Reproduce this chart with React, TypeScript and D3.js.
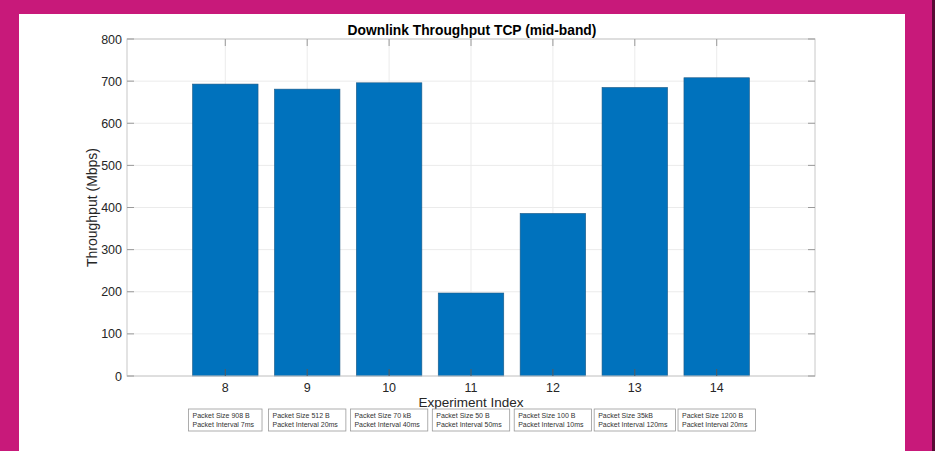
import React, { useRef, useEffect } from 'react';
import * as d3 from 'd3';

// experiment indices and measured throughput
const experiments = [8, 9, 10, 11, 12, 13, 14];
const throughput = [693, 681, 696, 197, 386, 685, 708];
const packetSizes = ['908 B', '512 B', '70 kB', '50 B', '100 B', '35kB', '1200 B'];
const packetIntervals = ['7ms', '20ms', '40ms', '50ms', '10ms', '120ms', '20ms'];
const yTicks = [0, 100, 200, 300, 400, 500, 600, 700, 800];

const W = 935;
const H = 451;
const margin = { left: 127, right: 815, top: 39, bottom: 376 };
const FONT = 'Liberation Sans, Arial, sans-serif';

const Chart = () => {
    const ref = useRef<SVGSVGElement>(null);

    useEffect(() => {
        const svg = d3.select(ref.current);
        svg.selectAll('*').remove();

        // frame
        svg.append('rect').attr('x', 0).attr('y', 0).attr('width', W).attr('height', H).attr('fill', '#C8197A');
        svg.append('rect').attr('x', 932).attr('y', 0).attr('width', 3).attr('height', H).attr('fill', '#5a0a35');
        svg.append('rect').attr('x', 19).attr('y', 14).attr('width', 886).attr('height', H - 14).attr('fill', '#ffffff');

        const x = d3.scaleLinear().domain([6.8, 15.2]).range([margin.left, margin.right]);
        const y = d3.scaleLinear().domain([0, 800]).range([margin.bottom, margin.top]);

        const g = svg.append('g');

        // grid
        g.selectAll('line.gy').data(yTicks).enter().append('line')
            .attr('x1', margin.left).attr('x2', margin.right)
            .attr('y1', d => y(d)).attr('y2', d => y(d))
            .attr('stroke', '#ebebeb').attr('stroke-width', 1);
        g.selectAll('line.gx').data(experiments).enter().append('line')
            .attr('x1', d => x(d)).attr('x2', d => x(d))
            .attr('y1', margin.top).attr('y2', margin.bottom)
            .attr('stroke', '#ebebeb').attr('stroke-width', 1);

        // bars
        const bw = x(0.8) - x(0);
        g.selectAll('rect.bar').data(experiments).enter().append('rect')
            .attr('x', d => x(d) - bw / 2)
            .attr('width', bw)
            .attr('y', (d, i) => y(throughput[i]))
            .attr('height', (d, i) => y(0) - y(throughput[i]))
            .attr('fill', '#0072BD')
            .attr('stroke', '#1f5a85')
            .attr('stroke-width', 0.6);

        // box
        g.append('rect')
            .attr('x', margin.left).attr('y', margin.top)
            .attr('width', margin.right - margin.left).attr('height', margin.bottom - margin.top)
            .attr('fill', 'none').attr('stroke', '#c8c8c8').attr('stroke-width', 1);

        // ticks (inside)
        g.selectAll('line.ty').data(yTicks).enter().append('line')
            .attr('x1', margin.left).attr('x2', margin.left + 7)
            .attr('y1', d => y(d)).attr('y2', d => y(d))
            .attr('stroke', '#9a9a9a');
        g.selectAll('line.ty2').data(yTicks).enter().append('line')
            .attr('x1', margin.right).attr('x2', margin.right - 7)
            .attr('y1', d => y(d)).attr('y2', d => y(d))
            .attr('stroke', '#9a9a9a');
        g.selectAll('line.tx').data(experiments).enter().append('line')
            .attr('x1', d => x(d)).attr('x2', d => x(d))
            .attr('y1', margin.bottom).attr('y2', margin.bottom - 7)
            .attr('stroke', '#5a5a5a');
        g.selectAll('line.tx2').data(experiments).enter().append('line')
            .attr('x1', d => x(d)).attr('x2', d => x(d))
            .attr('y1', margin.top).attr('y2', margin.top + 7)
            .attr('stroke', '#9a9a9a');

        // tick labels
        g.selectAll('text.yl').data(yTicks).enter().append('text')
            .attr('x', margin.left - 5).attr('y', d => y(d) + 4.5)
            .attr('text-anchor', 'end')
            .attr('font-family', FONT)
            .attr('font-size', 12.5).attr('fill', '#262626')
            .text(d => d);
        g.selectAll('text.xl').data(experiments).enter().append('text')
            .attr('x', d => x(d)).attr('y', margin.bottom + 15.5)
            .attr('text-anchor', 'middle')
            .attr('font-family', FONT)
            .attr('font-size', 12.5).attr('fill', '#262626')
            .text(d => d);

        // axis labels and title
        svg.append('text')
            .attr('x', 471).attr('y', 407)
            .attr('text-anchor', 'middle')
            .attr('font-family', FONT)
            .attr('font-size', 13.5).attr('fill', '#262626')
            .text('Experiment Index');
        svg.append('text')
            .attr('transform', `translate(97, ${(margin.top + margin.bottom) / 2}) rotate(-90)`)
            .attr('text-anchor', 'middle')
            .attr('font-family', FONT)
            .attr('font-size', 14).attr('fill', '#262626')
            .text('Throughput (Mbps)');
        svg.append('text')
            .attr('x', 472).attr('y', 35)
            .attr('text-anchor', 'middle')
            .attr('font-family', FONT)
            .attr('font-weight', 'bold')
            .attr('font-size', 13.8).attr('fill', '#000')
            .text('Downlink Throughput TCP (mid-band)');

        // annotation boxes, sized to their text
        const notes = svg.selectAll('g.note').data(experiments).enter().append('g');
        const rects = notes.append('rect')
            .attr('y', 409).attr('height', 22)
            .attr('fill', '#fff').attr('stroke', '#9a9a9a').attr('stroke-width', 0.8);
        const t1 = notes.append('text')
            .attr('y', 418)
            .attr('font-family', FONT)
            .attr('font-size', 7).attr('fill', '#333')
            .text((d, i) => `Packet Size ${packetSizes[i]}`);
        const t2 = notes.append('text')
            .attr('y', 427)
            .attr('font-family', FONT)
            .attr('font-size', 7).attr('fill', '#333')
            .text((d, i) => `Packet Interval ${packetIntervals[i]}`);
        notes.each(function (d, i) {
            const a = (t1.nodes()[i] as SVGTextElement).getComputedTextLength();
            const b = (t2.nodes()[i] as SVGTextElement).getComputedTextLength();
            const w = Math.max(a, b) + 12;
            const left = x(d) - w / 2;
            d3.select(rects.nodes()[i]).attr('x', left).attr('width', w);
            d3.select(t1.nodes()[i]).attr('x', left + 4);
            d3.select(t2.nodes()[i]).attr('x', left + 4);
        });
    }, []);

    return <svg ref={ref} width={W} height={H} style={{ display: 'block' }}></svg>;
};

export default function App() {
    return (
        <div style={{ position: 'absolute', left: 0, top: 0 }}>
            <Chart />
        </div>
    );
}
